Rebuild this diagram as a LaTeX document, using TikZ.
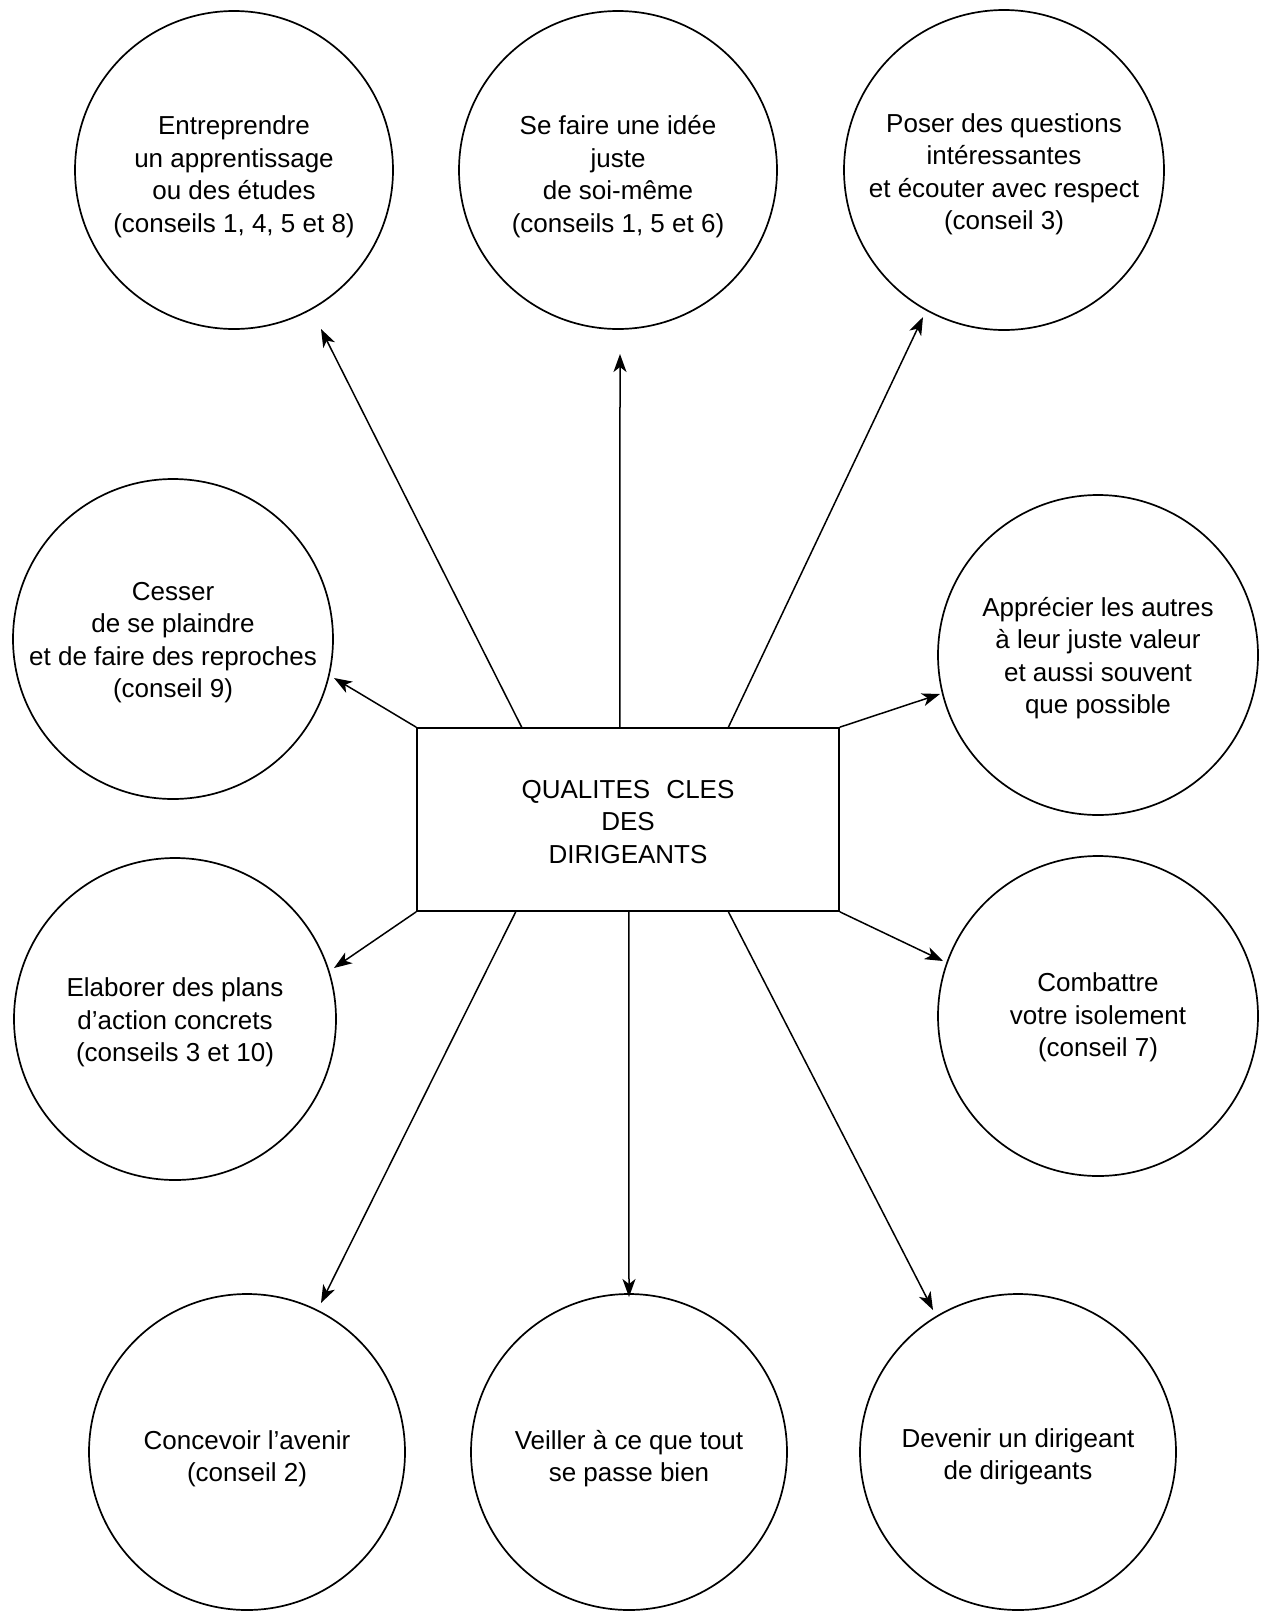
\documentclass[tikz,border=0pt]{standalone}
\usepackage{fontspec}
\setmainfont{Liberation Sans}
\usetikzlibrary{arrows.meta,calc}
\newcommand\tdn[1]{\rule{0pt}{\dimexpr 19pt+2\dimexpr #1\relax\relax}}
\begin{document}
\begin{tikzpicture}[x=1pt,y=-1pt,
  txt/.style={align=center,font=\fontsize{26}{32.5}\selectfont},
  bubble/.style={circle,draw,line width=1.7pt,inner sep=0pt,txt},
  box/.style={rectangle,draw,line width=1.7pt,inner sep=0pt,minimum width=422pt,minimum height=183pt,txt},
  arr/.style={-{Stealth[length=18pt,width=13pt,inset=5pt]},line width=1.5pt}]
\useasboundingbox (0,0) rectangle (1261,1612);
\fill[white] (0,0) rectangle (1261,1612);

\node[box] (q) at (628,819.5) {\tdn{2pt}QUALITES\hspace{0.35em} CLES\\DES\\DIRIGEANTS};

\node[bubble,minimum size=318pt] (c1) at (234,170) {\tdn{6.5pt}Entreprendre\\un apprentissage\\ou des études\\(conseils 1, 4, 5 et 8)};
\node[bubble,minimum size=318pt] (c2) at (618,170) {\tdn{6.5pt}Se faire une idée\\juste\\de soi-même\\(conseils 1, 5 et 6)};
\node[bubble,minimum size=320pt] (c3) at (1004,170) {\tdn{4pt}Poser des questions\\intéressantes\\et écouter avec respect\\(conseil 3)};
\node[bubble,minimum size=320pt] (c4) at (173,639) {\tdn{3pt}Cesser\\de se plaindre\\et de faire des reproches\\(conseil 9)};
\node[bubble,minimum size=320pt] (c5) at (1098,655) {\tdn{3pt}Apprécier les autres\\à leur juste valeur\\et aussi souvent\\que possible};
\node[bubble,minimum size=322pt] (c6) at (175,1019) {\tdn{3.5pt}Elaborer des plans\\d'action concrets\\(conseils 3 et 10)};
\node[bubble,minimum size=320pt] (c7) at (1098,1016) {\tdn{1.5pt}Combattre\\votre isolement\\(conseil 7)};
\node[bubble,minimum size=316pt] (c8) at (247,1452) {\tdn{6.5pt}Concevoir l'avenir\\(conseil 2)};
\node[bubble,minimum size=316pt] (c9) at (629,1452) {\tdn{6.5pt}Veiller à ce que tout\\se passe bien};
\node[bubble,minimum size=316pt] (c10) at (1018,1452) {\tdn{4.5pt}Devenir un dirigeant\\de dirigeants};

\coordinate (s1) at ($(q.north west)!0.249!(q.north east)$);
\coordinate (s2) at ($(q.north west)!0.481!(q.north east)$);
\coordinate (s3) at ($(q.north west)!0.737!(q.north east)$);
\coordinate (s8) at ($(q.south west)!0.235!(q.south east)$);
\coordinate (s9) at ($(q.south west)!0.502!(q.south east)$);
\coordinate (s10) at ($(q.south west)!0.737!(q.south east)$);

\coordinate (e1) at (321,329);
\coordinate (e2) at (620,354);
\coordinate (e3) at (923,317);
\coordinate (e4) at (334,678);
\coordinate (e5) at (940,694);
\coordinate (e6) at (334,968);
\coordinate (e7) at (943,961);
\coordinate (e8) at (321,1303);
\coordinate (e9) at (629,1297);
\coordinate (e10) at (933,1310);

\draw[arr] (s1) -- (e1);
\draw[arr] (s2) -- (e2);
\draw[arr] (s3) -- (e3);
\draw[arr] (q.north west) -- (e4);
\draw[arr] (q.north east) -- (e5);
\draw[arr] (q.south west) -- (e6);
\draw[arr] (q.south east) -- (e7);
\draw[arr] (s8) -- (e8);
\draw[arr] (s9) -- (e9);
\draw[arr] (s10) -- (e10);
\end{tikzpicture}
\end{document}
